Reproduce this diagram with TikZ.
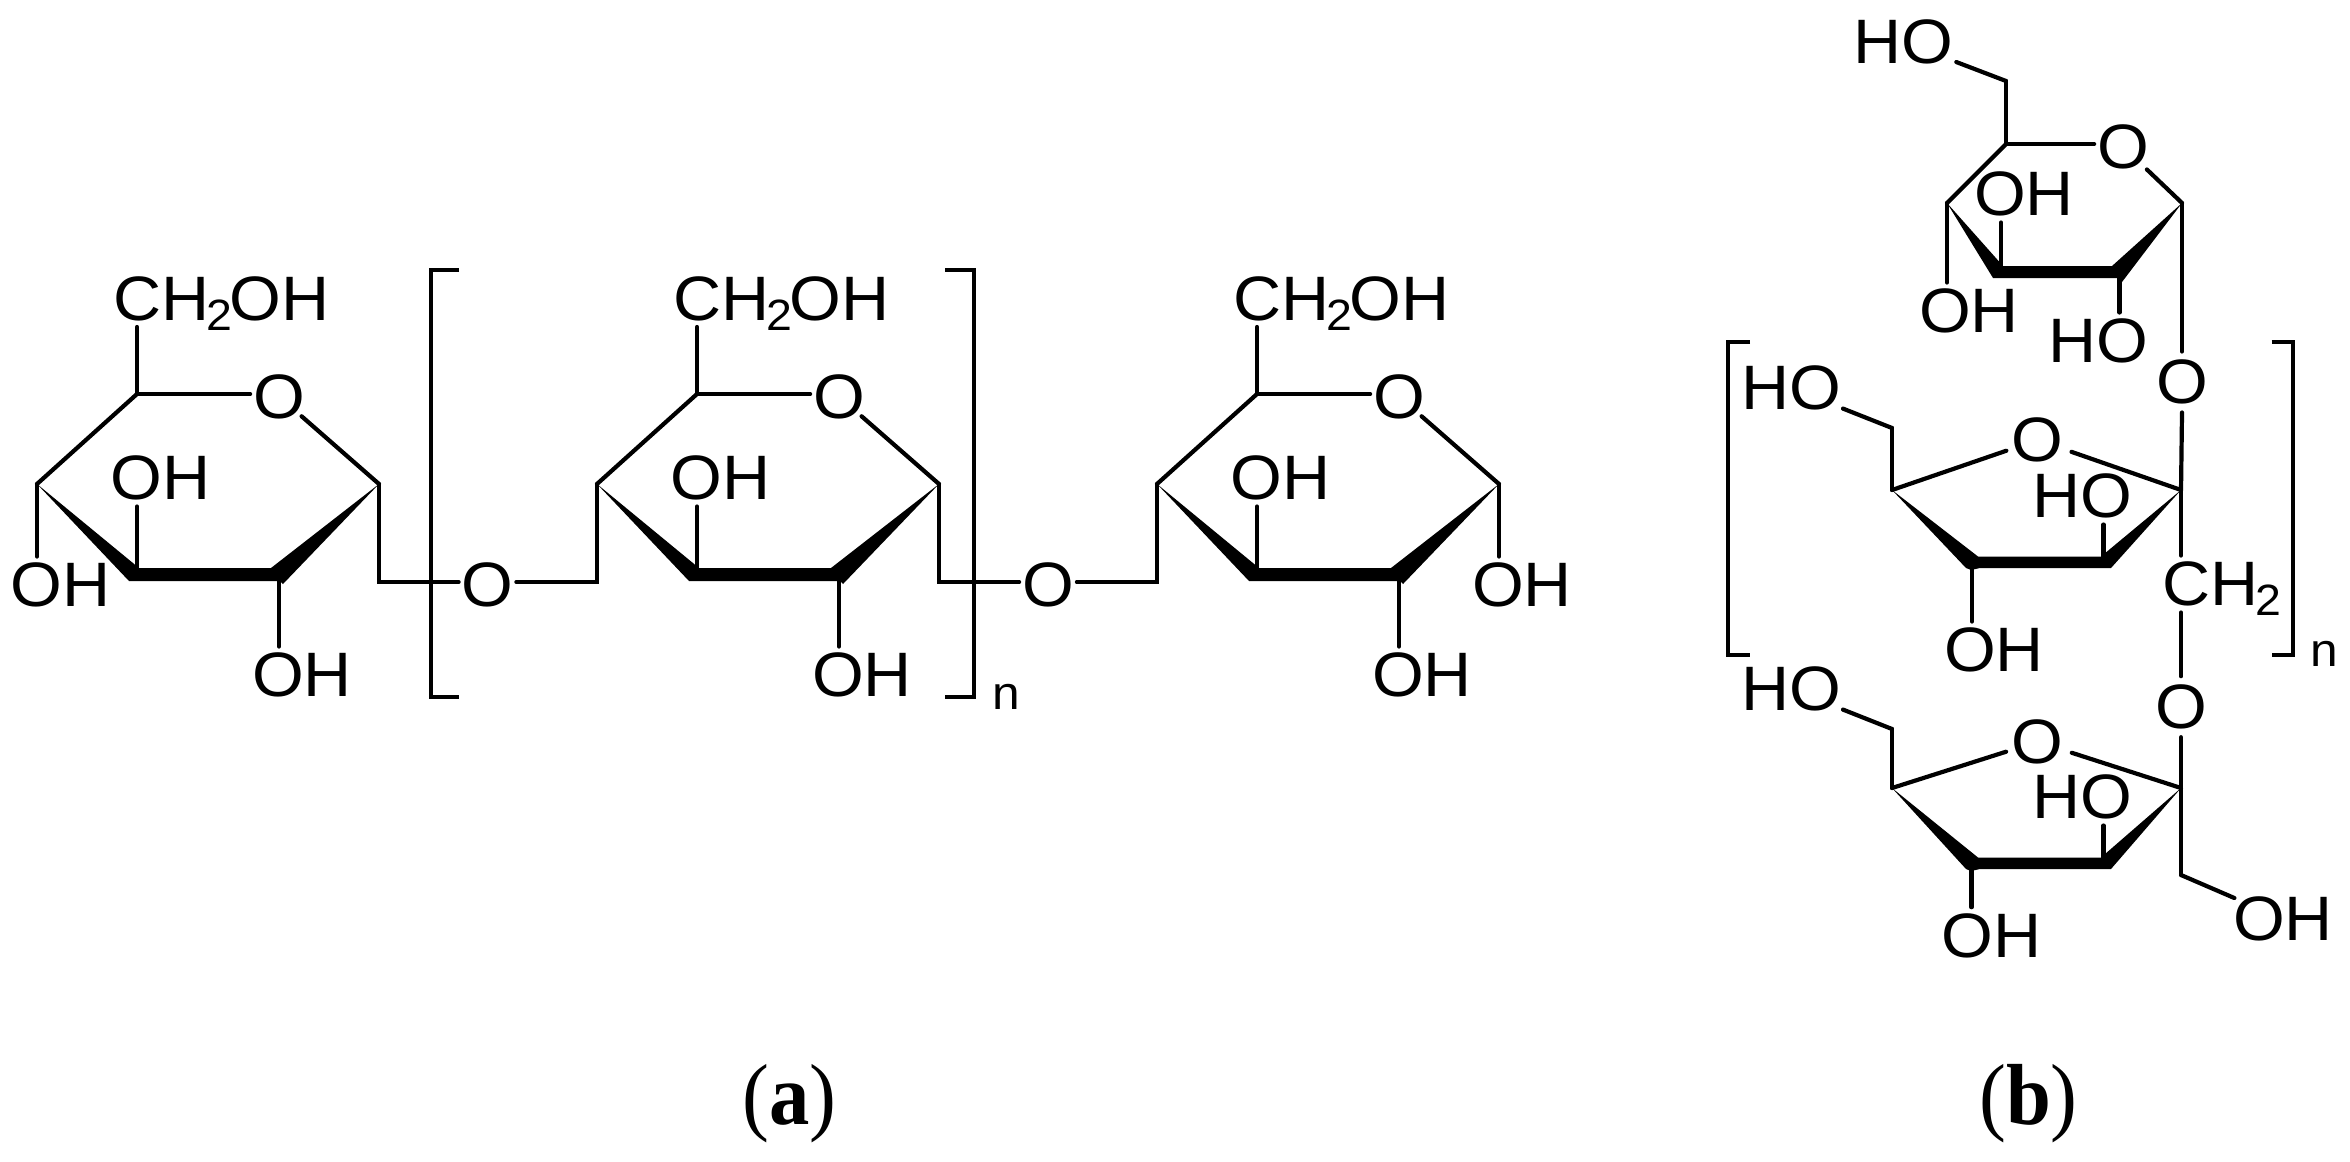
\documentclass[tikz,border=0pt]{standalone}
\usepackage{fontspec}
\setmainfont[FakeStretch=0.93]{Liberation Serif}
\newfontfamily\chemfont[FakeStretch=1.06]{Liberation Sans}
\usetikzlibrary{calc}
\newcommand{\subtwo}{\kern-3bp\raisebox{-10bp}{\fontsize{44}{44}\selectfont 2}\kern-3bp}
\tikzset{
  bond/.style={line width=4.2bp,line cap=round,line join=miter,draw=black},
  brack/.style={line width=4bp,line cap=butt,line join=miter,draw=black},
  atom/.style={inner xsep=3bp,inner ysep=7bp,outer sep=0pt,text height=43bp,text depth=0pt,
    font=\chemfont\fontsize{63}{63}\selectfont},
  rep/.style={inner sep=0pt,text height=23bp,text depth=0pt,font=\chemfont\fontsize{47}{47}\selectfont},
  figcap/.style={inner sep=0pt,anchor=base,font=\fontsize{87}{87}\selectfont}
}
% pyranose ring of panel (a)
\newcommand{\pyr}[2]{%
  \begin{scope}[shift={(#2,0)}]
    \coordinate (#1t) at (137,394);
    \coordinate (#1r) at (379,484);
    \coordinate (#1l) at (37,484);
    \coordinate (#1bl) at (137,572);
    \coordinate (#1br) at (279,578);
    \node[atom] (#1ring) at (279,396.5) {O};
    \node[atom] (#1ch) at (221.5,298.5) {CH\subtwo OH};
    \node[atom] (#1up) at (160.5,478) {OH};
    \node[atom] (#1down) at (302,675) {OH};
    \fill (#1l) -- (139,568) -- (271,568) -- (#1r) -- (283,584) -- (280,581) -- (129,581) -- cycle;
  \end{scope}
  \draw[bond] (#1ch.south -| #1t) -- (#1t) -- (#1t -| #1ring.west);
  \draw[bond,shorten <=30bp] (#1ring.center) -- (#1r);
  \draw[bond] (#1t) -- (#1l);
  \draw[bond] (#1bl) -- (#1bl |- #1up.south);
  \draw[bond] (#1br) -- (#1br |- #1down.north);
}
% furanose ring of panel (b)
\newcommand{\fur}[7]{% prefix, y of side C, y of ring O, CH2 y, HO y, base dy, ring-HO y
  \coordinate (#1l) at (1892,#2);
  \coordinate (#1r) at (2181,#2);
  \coordinate (#1m) at (1892,#4);
  \node[atom] (#1ring) at (2037.5,#3) {O};
  \node[atom] (#1ho) at (1791,#5) {HO};
  \fill (#1l) -- (1978,#6-0.5) -- (2101,#6-0.5) -- (#1r) -- (2111,#6+11) -- (1980,#6+11) -- (1971,#6+13) -- (1966,#6+11) -- cycle;
  \node[atom] (#1hor) at (2082,#7) {HO};
  \coordinate (#1hb) at (2103.5,#6);
  \draw[bond,shorten <=33bp] (#1ring.center) -- (#1l);
  \draw[bond,shorten <=36bp] (#1ring.center) -- (#1r);
  \draw[bond,shorten <=56bp] (#1ho.center) -- (#1m);
  \draw[bond] (#1m) -- (#1l);
  \draw[bond] (#1hb) -- (#1hb |- #1hor.south);
}
\begin{document}
\begin{tikzpicture}[x=1bp,y=-1bp]
\useasboundingbox (0,0) rectangle (2350,1161);
\pyr{a}{0}
\pyr{b}{560}
\pyr{c}{1120}
% free hydroxyls and links of panel (a)
\node[atom] (aoh) at (60.5,585) {OH};
\draw[bond] (al) -- (al |- aoh.north);
\coordinate (k1) at (379,582);
\coordinate (k2) at (597,582);
\coordinate (k3) at (939,582);
\coordinate (k4) at (1157,582);
\node[atom] (ol1) at (487.5,584.5) {O};
\node[atom] (ol2) at (1048,584.5) {O};
\draw[bond] (ar) -- (k1) -- (k1 -| ol1.west);
\draw[bond] (k1 -| ol1.east) -- (k2) -- (bl);
\draw[bond] (br) -- (k3) -- (k3 -| ol2.west);
\draw[bond] (k3 -| ol2.east) -- (k4) -- (cl);
\node[atom] (coh) at (1522,585) {OH};
\draw[bond] (cr) -- (cr |- coh.north);
\draw[brack] (459,269.5) -- (431,269.5) -- (431,696.5) -- (459,696.5);
\draw[brack] (945,269.5) -- (973.5,269.5) -- (973.5,696.5) -- (945,696.5);
\node[rep] (na) at (1006,698) {n};
% top pyranose of panel (b)
\coordinate (tc) at (2006,144);
\coordinate (tm) at (2006,81);
\coordinate (tl) at (1947,203);
\coordinate (tr) at (2182,203);
\coordinate (tbl) at (2001,267);
\coordinate (tbr) at (2119.5,277);
\node[atom] (thot) at (1903,41.7) {HO};
\node[atom] (tring) at (2123,146.7) {O};
\node[atom] (toh1) at (2024,194) {OH};
\node[atom] (toh2) at (1969,311) {OH};
\node[atom] (tho) at (2098,341) {HO};
\node[atom,inner ysep=9bp] (o1) at (2182,382) {O};
\fill (tl) -- (2003,266) -- (2112,266) -- (tr) -- (2122,282) -- (2120,278) -- (1993,278) -- cycle;
\draw[bond,shorten <=57bp] (thot.center) -- (tm);
\draw[bond] (tm) -- (tc) -- (tc -| tring.west);
\draw[bond] (tc) -- (tl);
\draw[bond,shorten <=33bp] (tring.center) -- (tr);
\draw[bond] (tbl) -- (tbl |- toh1.south);
\draw[bond] (tl) -- (tl |- toh2.north);
\draw[bond] (tbr) -- (tbr |- tho.north);
\draw[bond] (tr) -- (tr |- o1.north);
% furanose rings of panel (b)
\fur{m}{490}{440}{428}{388}{557}{496}
\fur{n}{788}{741.7}{729}{689}{858}{797}
\node[atom] (ch) at (2220,584) {CH\subtwo};
\node[atom,inner ysep=9bp] (o2) at (2181,706.7) {O};
\node[atom] (moh) at (1994,650) {OH};
\node[atom] (noh) at (1991.5,935.7) {OH};
\node[atom] (lastoh) at (2283,919) {OH};
\coordinate (mb) at (1972,569);
\coordinate (nb) at (1971.5,870);
\coordinate (nx) at (2181,875);
\draw[bond] (tr |- o1.south) -- (mr);
\draw[bond] (mr) -- (mr |- ch.north);
\draw[bond] (o2 |- ch.south) -- (o2.north);
\draw[bond] (o2.south) -- (nr);
\draw[bond] (nr) -- (nx);
\draw[bond,shorten >=53bp] (nx) -- (lastoh.center);
\draw[bond] (mb) -- (mb |- moh.north);
\draw[bond] (nb) -- (nb |- noh.north);
\draw[brack] (1750,341.7) -- (1728,341.7) -- (1728,655) -- (1750,655);
\draw[brack] (2271.5,341.7) -- (2293,341.7) -- (2293,655) -- (2271.5,655);
\node[rep] (nb2) at (2324,655) {n};
% captions
\node[figcap] (capa) at (789.5,1124) {(\textbf{a})};
\node[figcap] (capb) at (2028.5,1124) {(\textbf{b})};
\end{tikzpicture}
\end{document}
